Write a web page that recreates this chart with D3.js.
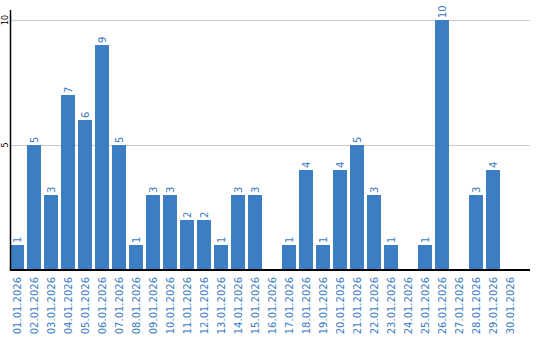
<!DOCTYPE html>
<html>
<head>
<meta charset="utf-8">
<script src="https://cdn.jsdelivr.net/npm/d3@7"></script>
<style>
  body { margin: 0; background: #fff; }
  text { font-family: "DejaVu Sans", Verdana, sans-serif; }
</style>
</head>
<body>
<div class="chart"></div>
<script>
// days of january 2026
var days = ["01.01.2026","02.01.2026","03.01.2026","04.01.2026","05.01.2026","06.01.2026",
    "07.01.2026","08.01.2026","09.01.2026","10.01.2026","11.01.2026","12.01.2026",
    "13.01.2026","14.01.2026","15.01.2026","16.01.2026","17.01.2026","18.01.2026",
    "19.01.2026","20.01.2026","21.01.2026","22.01.2026","23.01.2026","24.01.2026",
    "25.01.2026","26.01.2026","27.01.2026","28.01.2026","29.01.2026","30.01.2026"];
var counts = [1,5,3,7,6,9,5,1,3,3,2,2,1,3,3,0,1,4,1,4,5,3,1,0,1,10,0,3,4,0];
var yTicks = [5, 10];

var width = 540, height = 340;
var margin = {top: 10, left: 10, right: 10, bottom: 70};
var barColor = "#3b7ec3", textColor = "#3a7bbf";

var svg = d3.select(".chart").append("svg")
    .attr("width", width)
    .attr("height", height);

// x scale, 17px per day, 14px bars
var x = d3.scaleBand()
    .domain(days)
    .range([margin.left, margin.left + 17 * days.length - 3])
    .paddingInner(3 / 17)
    .paddingOuter(0);

var y = d3.scaleLinear()
    .domain([0, 10])
    .range([270, 20]);

// grid lines
svg.append("g")
    .selectAll("line")
    .data(yTicks)
    .enter().append("line")
    .attr("x1", margin.left)
    .attr("x2", 530)
    .attr("y1", function(d){ return y(d) + 0.5; })
    .attr("y2", function(d){ return y(d) + 0.5; })
    .attr("stroke", "#cccccc")
    .attr("stroke-width", 1);

var thisdata = days.map(function(d, i){ return {id: d, value: counts[i]}; })
    .filter(function(d){ return d.value > 0; });

// bars
svg.selectAll(".bar")
    .data(thisdata)
    .enter().append("rect")
    .attr("class", "bar")
    .attr("x", function(d){ return x(d.id); })
    .attr("y", function(d){ return y(d.value); })
    .attr("width", x.bandwidth())
    .attr("height", function(d){ return y(0) - y(d.value); })
    .attr("fill", barColor);

// value labels, rotated
svg.selectAll(".val")
    .data(thisdata)
    .enter().append("text")
    .attr("class", "val")
    .attr("transform", function(d){
        return "translate(" + (x(d.id) + x.bandwidth() / 2) + "," + (y(d.value) - 2) + ") rotate(-90)";
    })
    .attr("dy", "0.35em")
    .attr("font-size", "10px")
    .attr("fill", textColor)
    .text(function(d){ return d.value; });

// x labels
var xAxis = d3.axisBottom(x).tickSize(0).tickPadding(0);
var gx = svg.append("g")
    .attr("transform", "translate(0,270)")
    .call(xAxis);
gx.select(".domain").remove();
gx.selectAll(".tick text")
    .attr("font-family", "DejaVu Sans, Verdana, sans-serif")
    .attr("font-size", "10px")
    .attr("fill", textColor)
    .attr("transform", "rotate(-90)")
    .attr("text-anchor", "end")
    .attr("x", -7)
    .attr("y", 0)
    .attr("dy", "0.35em");

// baseline
svg.append("line")
    .attr("x1", margin.left).attr("x2", 530)
    .attr("y1", 270).attr("y2", 270)
    .attr("stroke", "#000").attr("stroke-width", 2);

// y axis line
svg.append("line")
    .attr("x1", 10.5).attr("x2", 10.5)
    .attr("y1", 10).attr("y2", 271)
    .attr("stroke", "#000").attr("stroke-width", 1.5);

// y labels
svg.selectAll(".ylab")
    .data(yTicks)
    .enter().append("text")
    .attr("class", "ylab")
    .attr("transform", function(d){ return "translate(5," + y(d) + ") rotate(-90)"; })
    .attr("text-anchor", "middle")
    .attr("dy", "0.35em")
    .attr("font-size", "8px")
    .attr("fill", "#000")
    .text(function(d){ return d; });
</script>
</body>
</html>
